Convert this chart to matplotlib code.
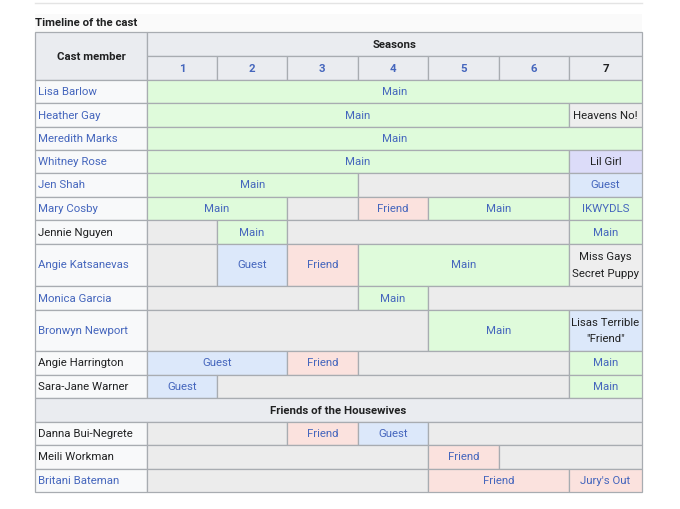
import matplotlib.pyplot as plt
from matplotlib.patches import Rectangle

plt.rcParams['font.family'] = ['Roboto', 'DejaVu Sans']

# Table data: cast names and the season spans of each row (seasons covered, kind, label).
castNames = ['Lisa Barlow', 'Heather Gay', 'Meredith Marks', 'Whitney Rose', 'Jen Shah',
             'Mary Cosby', 'Jennie Nguyen', 'Angie Katsanevas', 'Monica Garcia',
             'Bronwyn Newport', 'Angie Harrington', 'Sara-Jane Warner']
friendNames = ['Danna Bui-Negrete', 'Meili Workman', 'Britani Bateman']
blackNames = ['Jennie Nguyen', 'Angie Harrington', 'Sara-Jane Warner',
              'Danna Bui-Negrete', 'Meili Workman']
seasons = ['1', '2', '3', '4', '5', '6', '7']

castSpans = [
    [(7, 'main', 'Main')],
    [(6, 'main', 'Main'), (1, 'other', 'Heavens No!')],
    [(7, 'main', 'Main')],
    [(6, 'main', 'Main'), (1, 'lav', 'Lil Girl')],
    [(3, 'main', 'Main'), (3, 'none', ''), (1, 'guest', 'Guest')],
    [(2, 'main', 'Main'), (1, 'none', ''), (1, 'friend', 'Friend'), (2, 'main', 'Main'),
     (1, 'main', 'IKWYDLS')],
    [(1, 'none', ''), (1, 'main', 'Main'), (4, 'none', ''), (1, 'main', 'Main')],
    [(1, 'none', ''), (1, 'guest', 'Guest'), (1, 'friend', 'Friend'), (3, 'main', 'Main'),
     (1, 'other', 'Miss Gays\nSecret Puppy')],
    [(3, 'none', ''), (1, 'main', 'Main'), (3, 'none', '')],
    [(4, 'none', ''), (2, 'main', 'Main'), (1, 'guest', 'Lisas Terrible\n"Friend"')],
    [(2, 'guest', 'Guest'), (1, 'friend', 'Friend'), (3, 'none', ''), (1, 'main', 'Main')],
    [(1, 'guest', 'Guest'), (5, 'none', ''), (1, 'main', 'Main')],
]
friendSpans = [
    [(2, 'none', ''), (1, 'friend', 'Friend'), (1, 'guest', 'Guest'), (3, 'none', '')],
    [(4, 'none', ''), (1, 'friend', 'Friend'), (2, 'none', '')],
    [(4, 'none', ''), (2, 'friend', 'Friend'), (1, 'friend', "Jury's Out")],
]
blackLabels = ['Heavens No!', 'Lil Girl', 'Miss Gays\nSecret Puppy', 'Lisas Terrible\n"Friend"']

# Layout in pixels.
colEdges = [35, 147, 217, 287, 357.5, 428, 499, 569, 642]
headerTop, headerMid, headerBottom = 32, 56, 80
castRowHeights = [23, 24, 23, 23, 24, 23, 24, 42, 24, 41, 24, 23]
friendHeaderHeight = 24
friendRowHeights = [23, 24, 23]

fillColors = {'main': '#dffbdb', 'guest': '#dce8fa', 'friend': '#fbe2de',
              'none': '#ececec', 'other': '#eeeeee', 'lav': '#dcdcf9'}
borderColor = '#a8acb1'
linkColor = '#4566bd'
textColor = '#202122'
fontSize = 8.2


# Draw one cell with a border and optional centred text.
def drawCell(ax, x0, x1, y0, y1, face, text='', color=textColor, bold=False, ha='center'):
    ax.add_patch(Rectangle((x0, y0), x1 - x0, y1 - y0, facecolor=face,
                           edgecolor=borderColor, linewidth=0.9))
    if text:
        tx = (x0 + x1) / 2 if ha == 'center' else x0 + 3
        ax.text(tx, (y0 + y1) / 2 + 0.5, text, ha=ha, va='center', fontsize=fontSize,
                color=color, fontweight='bold' if bold else 'normal', linespacing=1.8)


# Draw one table row: name cell and its season spans.
def drawRow(ax, name, spans, y0, y1):
    nameColor = textColor if name in blackNames else linkColor
    drawCell(ax, colEdges[0], colEdges[1], y0, y1, '#f8f9fa', name, nameColor, ha='left')
    col = 0
    for length, kind, label in spans:
        labelColor = textColor if label in blackLabels else linkColor
        drawCell(ax, colEdges[col + 1], colEdges[col + 1 + length], y0, y1,
                 fillColors[kind], label, labelColor)
        col += length


if __name__ == '__main__':
    fig = plt.figure(figsize=(6.8, 5.09), dpi=100)
    ax = fig.add_axes([0, 0, 1, 1])
    ax.set_xlim(0, 680)
    ax.set_ylim(509, 0)
    ax.axis('off')

    # Top rule and caption.
    ax.plot([35, 642], [2.5, 2.5], color='#e4e4e4', linewidth=1)
    ax.add_patch(Rectangle((35, 14), 607, 18, facecolor='#fafafa', edgecolor='none'))
    ax.text(35, 22.5, 'Timeline of the cast', ha='left', va='center', fontsize=fontSize,
            fontweight='bold', color=textColor)

    # Header rows.
    headerColor = '#eaecf0'
    drawCell(ax, colEdges[0], colEdges[1], headerTop, headerBottom, headerColor,
             'Cast member', bold=True)
    drawCell(ax, colEdges[1], colEdges[-1], headerTop, headerMid, headerColor,
             'Seasons', bold=True)
    for i, season in enumerate(seasons):
        seasonColor = textColor if season == '7' else linkColor
        drawCell(ax, colEdges[i + 1], colEdges[i + 2], headerMid, headerBottom, headerColor,
                 season, seasonColor, bold=True)

    # Cast rows.
    y = headerBottom
    for name, spans, h in zip(castNames, castSpans, castRowHeights):
        drawRow(ax, name, spans, y, y + h)
        y += h

    # Friends section.
    drawCell(ax, colEdges[0], colEdges[-1], y, y + friendHeaderHeight, headerColor,
             'Friends of the Housewives', bold=True)
    y += friendHeaderHeight
    for name, spans, h in zip(friendNames, friendSpans, friendRowHeights):
        drawRow(ax, name, spans, y, y + h)
        y += h

    fig.savefig('out.png', dpi=100, facecolor='white')
